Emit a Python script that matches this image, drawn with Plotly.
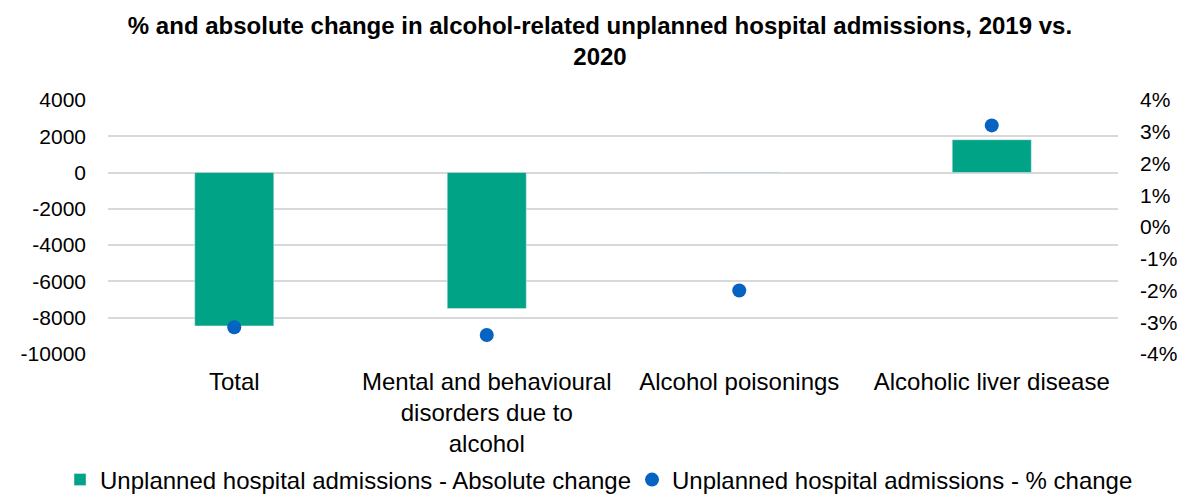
import plotly.graph_objects as go

categorias = [
    "Total",
    "Mental and behavioural<br>disorders due to<br>alcohol",
    "Alcohol poisonings",
    "Alcoholic liver disease",
]
cambio_absoluto = [-8450, -7490, -20, 1810]
cambio_pct = [-0.0316, -0.034, -0.020, 0.032]

ticks_abs = [-10000, -8000, -6000, -4000, -2000, 0, 2000, 4000]
ticks_pct = [-0.04, -0.03, -0.02, -0.01, 0, 0.01, 0.02, 0.03, 0.04]

VERDE = "#00a386"
AZUL = "#0563c1"
GRIS = "#d9d9d9"
FUENTE = "Liberation Sans, Arial, sans-serif"

fig = go.Figure()

fig.add_bar(
    x=categorias,
    y=cambio_absoluto,
    name="Unplanned hospital admissions - Absolute change",
    marker_color=VERDE,
    yaxis="y",
    legend="legend",
)

fig.add_scatter(
    x=categorias,
    y=cambio_pct,
    name="Unplanned hospital admissions - % change",
    mode="markers",
    marker={"color": AZUL, "size": 14},
    yaxis="y2",
    legend="legend2",
)

# una leyenda por serie para que no se parta en dos filas
leyenda = {
    "orientation": "h",
    "xref": "container",
    "xanchor": "left",
    "y": -0.496,
    "yanchor": "middle",
    "font": {"size": 24},
    "itemwidth": 30,
}

fig.update_layout(
    width=1169,
    height=487,
    paper_bgcolor="white",
    plot_bgcolor="white",
    font={"family": FUENTE, "size": 21, "color": "#000000"},
    title={
        "text": "<b>% and absolute change in alcohol-related unplanned hospital admissions, 2019 vs.<br>2020</b>",
        "x": 0.5064,
        "xanchor": "center",
        "y": 0.946,
        "yanchor": "top",
        "font": {"size": 24},
    },
    margin={"l": 100, "r": 59, "t": 92, "b": 141, "autoexpand": False},
    bargap=0.687,
    showlegend=True,
    legend={**leyenda, "x": 0.0445},
    legend2={**leyenda, "x": 0.5338},
    xaxis={
        "showgrid": False,
        "showline": False,
        "zeroline": False,
        "tickfont": {"size": 24},
        "ticklabelstandoff": 11,
    },
    yaxis={
        "range": [-10000, 4000],
        "tickvals": ticks_abs,
        "ticktext": [str(v) for v in ticks_abs],
        "gridcolor": GRIS,
        "gridwidth": 1.5,
        "zeroline": False,
        "showline": False,
        "ticklabelstandoff": 21,
    },
    yaxis2={
        "range": [-0.04, 0.04],
        "tickvals": ticks_pct,
        "ticktext": [f"{round(v * 100)}%" for v in ticks_pct],
        "overlaying": "y",
        "side": "right",
        "showgrid": False,
        "zeroline": False,
        "showline": False,
        "ticklabelstandoff": 21,
    },
)

fig.write_html("out.html")
